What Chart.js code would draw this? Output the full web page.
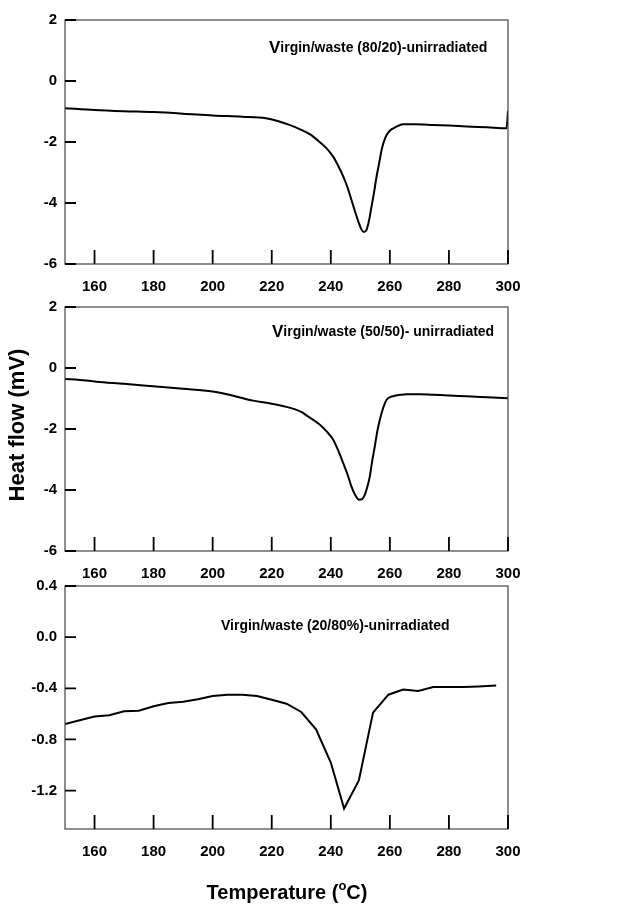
<!DOCTYPE html>
<html>
<head>
<meta charset="utf-8">
<script src="https://cdn.jsdelivr.net/npm/chart.js@4.4.1/dist/chart.umd.min.js"></script>
<style>
  html, body { margin: 0; padding: 0; background: #fff; }
  #wrap { position: relative; width: 642px; height: 906px; }
  #wrap canvas { position: absolute; left: 0; top: 0; }
</style>
</head>
<body>
<div id="wrap">
  <canvas id="c1" width="642" height="906"></canvas>
  <canvas id="c2" width="642" height="906"></canvas>
  <canvas id="c3" width="642" height="906"></canvas>
</div>
<script>
// ── data ───────────────────────────────────────────────────────────────
const xTicks = [160, 180, 200, 220, 240, 260, 280, 300];
const yTicksMv = [2, 0, -2, -4, -6];
const yTicksLow = [0.4, 0.0, -0.4, -0.8, -1.2];

// Virgin/waste (80/20)
const temp1 = [150, 160, 170, 180, 190, 200, 210, 218, 222, 226, 230, 233, 236, 238.5, 240.8, 242.5, 244.2, 245.7,
  247, 248.2, 249.3, 250.3, 251.2, 252.1, 253, 253.8, 254.7, 255.5, 256.4, 257.2, 258, 258.9, 260, 261.2, 262.8,
  264.5, 268, 274.7, 280, 286, 293, 299.5, 300];
const flow1 = [-0.89, -0.95, -0.99, -1.02, -1.07, -1.13, -1.17, -1.22, -1.31, -1.44, -1.6, -1.75, -1.98, -2.2, -2.48,
  -2.78, -3.13, -3.5, -3.9, -4.28, -4.6, -4.85, -4.95, -4.88, -4.55, -4.11, -3.62, -3.13, -2.68, -2.26, -1.98, -1.77,
  -1.63, -1.55, -1.47, -1.42, -1.42, -1.44, -1.46, -1.49, -1.52, -1.55, -0.98];

// Virgin/waste (50/50)
const temp2 = [150, 155, 160.6, 170, 179.8, 190, 200, 207, 213.7, 220, 226, 230, 232, 236.3, 238.5, 240.8, 242.5,
  244.2, 245.7, 247, 248.3, 249.6, 250.6, 251.5, 252.3, 253.2, 254, 254.9, 255.7, 256.6, 257.7, 258.9, 260.2, 261.7,
  263.5, 265.7, 270, 274.7, 280, 286, 293, 300];
const flow2 = [-0.36, -0.39, -0.45, -0.52, -0.6, -0.68, -0.77, -0.91, -1.07, -1.17, -1.3, -1.44, -1.57, -1.86, -2.07,
  -2.35, -2.7, -3.12, -3.5, -3.89, -4.17, -4.32, -4.3, -4.16, -3.92, -3.56, -3.06, -2.57, -2.1, -1.7, -1.32, -1.04,
  -0.95, -0.91, -0.88, -0.86, -0.86, -0.88, -0.9, -0.93, -0.96, -0.99];

// Virgin/waste (20/80%)
const temp3 = [150, 155, 160, 165, 170, 175, 180, 185, 190, 195, 200, 205, 210, 215, 220, 225, 230, 235, 240, 244.5,
  249.5, 254.3, 259.5, 264.5, 269.6, 274.7, 280, 285, 290, 296];
const flow3 = [-0.68, -0.65, -0.62, -0.61, -0.58, -0.575, -0.54, -0.515, -0.505, -0.485, -0.46, -0.45, -0.45, -0.46,
  -0.49, -0.52, -0.585, -0.72, -0.98, -1.34, -1.12, -0.59, -0.45, -0.41, -0.42, -0.39, -0.39, -0.39, -0.385, -0.378];

const FONT = '"Liberation Sans", Arial, sans-serif';

// frame + inward tick marks, drawn from the chart's own scales
const framePlugin = {
  id: 'frame',
  afterDraw(chart, args, opts) {
    const { ctx, chartArea: a, scales } = chart;
    ctx.save();
    ctx.strokeStyle = '#444';
    ctx.lineWidth = 1.2;
    ctx.strokeRect(a.left, a.top, a.right - a.left, a.bottom - a.top);
    ctx.strokeStyle = '#000';
    ctx.lineWidth = 1.8;
    ctx.beginPath();
    xTicks.forEach(v => {
      const x = scales.x.getPixelForValue(v);
      ctx.moveTo(x, a.bottom);
      ctx.lineTo(x, a.bottom - 14);
    });
    opts.yTicks.forEach(v => {
      const y = scales.y.getPixelForValue(v);
      ctx.moveTo(a.left, y);
      ctx.lineTo(a.left + 11, y);
    });
    ctx.stroke();

    // panel caption, first letter optionally larger
    const n = opts.note;
    ctx.fillStyle = '#000';
    ctx.textBaseline = 'middle';
    ctx.textAlign = 'left';
    let x = n.x;
    if (n.bigFirst) {
      ctx.font = 'bold 17px ' + FONT;
      ctx.fillText(n.text[0], x, n.y + 0.5);
      x += ctx.measureText(n.text[0]).width;
      ctx.font = 'bold 14px ' + FONT;
      ctx.fillText(n.text.slice(1), x, n.y);
    } else {
      ctx.font = 'bold 14px ' + FONT;
      ctx.fillText(n.text, x, n.y);
    }

    if (opts.titles) {
      // y title
      ctx.save();
      ctx.translate(18, 425);
      ctx.rotate(-Math.PI / 2);
      ctx.textAlign = 'center';
      ctx.font = 'bold 22px ' + FONT;
      ctx.fillText('Heat flow (mV)', 0, 0);
      ctx.restore();
      // x title with superscript o
      ctx.font = 'bold 20px ' + FONT;
      const p1 = 'Temperature (', p2 = 'C)';
      const w1 = ctx.measureText(p1).width, w2 = ctx.measureText(p2).width;
      ctx.font = 'bold 13px ' + FONT;
      const wo = ctx.measureText('o').width;
      let tx = 287 - (w1 + wo + w2) / 2;
      ctx.font = 'bold 20px ' + FONT;
      ctx.fillText(p1, tx, 893);
      ctx.font = 'bold 13px ' + FONT;
      ctx.fillText('o', tx + w1, 886);
      ctx.font = 'bold 20px ' + FONT;
      ctx.fillText(p2, tx + w1 + wo, 893);
    }
    ctx.restore();
  }
};

function makePanel(id, temps, flows, cfg) {
  const pts = temps.map((t, i) => ({ x: t, y: flows[i] }));
  return new Chart(document.getElementById(id), {
    type: 'line',
    data: {
      datasets: [{
        data: pts,
        borderColor: '#000',
        borderWidth: 2,
        pointRadius: 0,
        fill: false,
        tension: cfg.smooth ? 0.4 : 0,
        cubicInterpolationMode: cfg.smooth ? 'monotone' : 'default'
      }]
    },
    options: {
      responsive: false,
      devicePixelRatio: 1,
      animation: false,
      events: [],
      layout: { padding: { top: cfg.top, bottom: 906 - cfg.bottom - 36, left: 0, right: 134 } },
      plugins: {
        legend: { display: false },
        tooltip: { enabled: false },
        frame: { yTicks: cfg.yTicks, note: cfg.note, titles: cfg.titles }
      },
      scales: {
        x: {
          type: 'linear', min: 150, max: 300,
          grid: { display: false },
          border: { display: false },
          afterBuildTicks: s => { s.ticks = xTicks.map(v => ({ value: v })); },
          afterFit: s => { s.height = 36; },
          ticks: {
            color: '#000', padding: 6, maxRotation: 0, autoSkip: false,
            font: { family: FONT, size: 15, weight: 'bold' }
          }
        },
        y: {
          min: cfg.yMin, max: cfg.yMax,
          grid: { display: false },
          border: { display: false },
          afterBuildTicks: s => { s.ticks = cfg.yTicks.map(v => ({ value: v })); },
          afterFit: s => { s.width = 65; },
          ticks: {
            color: '#000', padding: 0, autoSkip: false,
            font: { family: FONT, size: 15, weight: 'bold' },
            callback: v => cfg.fmt(v)
          }
        }
      }
    },
    plugins: [framePlugin]
  });
}

makePanel('c1', temp1, flow1, {
  top: 20, bottom: 264, yMin: -6, yMax: 2, yTicks: yTicksMv, fmt: v => String(v), smooth: true,
  note: { text: 'Virgin/waste (80/20)-unirradiated', x: 269, y: 48, bigFirst: true }
});
makePanel('c2', temp2, flow2, {
  top: 307, bottom: 551, yMin: -6, yMax: 2, yTicks: yTicksMv, fmt: v => String(v), smooth: true,
  note: { text: 'Virgin/waste (50/50)- unirradiated', x: 272, y: 332, bigFirst: true }
});
makePanel('c3', temp3, flow3, {
  top: 586, bottom: 829, yMin: -1.5, yMax: 0.4, yTicks: yTicksLow, fmt: v => v.toFixed(1), smooth: false,
  note: { text: 'Virgin/waste (20/80%)-unirradiated', x: 221, y: 626, bigFirst: false },
  titles: true
});
</script>
</body>
</html>
